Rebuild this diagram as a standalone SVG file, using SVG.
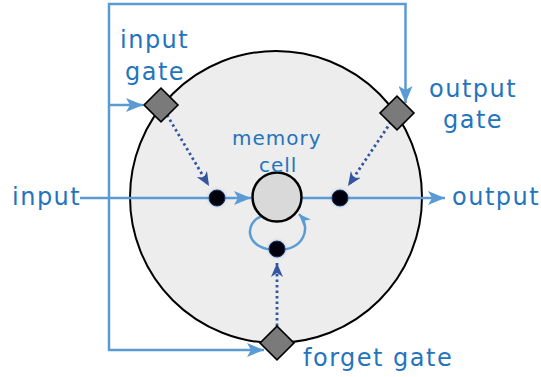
<svg xmlns="http://www.w3.org/2000/svg" width="541" height="377" viewBox="0 0 541 377">
  <style>
    .lbl { font-family: "DejaVu Sans", Verdana, sans-serif; font-size: 24px; letter-spacing: 1.5px; fill: #2474BC; }
    .small { font-size: 20px; letter-spacing: 1px; }
    .flow { fill: none; stroke: #5B9BD5; stroke-width: 2.5; }
    .ctrl { fill: none; stroke: #34559F; stroke-width: 2.8; stroke-dasharray: 2.5 3; }
    .gate { fill: #7A7A7A; stroke: #000; stroke-width: 1.6; }
    .dot { fill: #050510; stroke: #1a2a55; stroke-width: 1; }
  </style>
  <defs>
    <marker id="arrowBlue" viewBox="0 0 17 14" refX="17" refY="7" markerWidth="17" markerHeight="14" orient="auto-start-reverse" markerUnits="userSpaceOnUse">
      <path d="M0,0 L17,7 L0,14 L4,7 Z" fill="#5B9BD5"/>
    </marker>
    <marker id="arrowLoop" viewBox="0 0 12 10" refX="12" refY="5" markerWidth="12" markerHeight="10" orient="auto" markerUnits="userSpaceOnUse">
      <path d="M0,0 L12,5 L0,10 L3,5 Z" fill="#5B9BD5"/>
    </marker>
    <marker id="arrowCtrl" viewBox="0 0 14 12" refX="14" refY="6" markerWidth="14" markerHeight="12" orient="auto" markerUnits="userSpaceOnUse">
      <path d="M0,0 L14,6 L0,12 L4,6 Z" fill="#34559F"/>
    </marker>
    <filter id="glow" x="-50%" y="-50%" width="200%" height="200%">
      <feGaussianBlur in="SourceAlpha" stdDeviation="1.5" result="b"/>
      <feFlood flood-color="#5B9BD5" flood-opacity="0.6"/>
      <feComposite in2="b" operator="in" result="g"/>
      <feMerge><feMergeNode in="g"/><feMergeNode in="SourceGraphic"/></feMerge>
    </filter>
  </defs>

  <!-- unit body -->
  <g id="unit">
    <circle cx="276" cy="197" r="146" fill="#EDEDED" stroke="#000" stroke-width="2"/>
  </g>

  <!-- connectors -->
  <g id="connectors">
    <!-- gate feed bus: forget gate at one end, output gate at the other -->
    <path class="flow" d="M264,350 H109 V4 H405.5 V103" marker-start="url(#arrowBlue)" marker-end="url(#arrowBlue)"/>
    <path class="flow" d="M109,105 H143" marker-end="url(#arrowBlue)"/>
    <!-- data path -->
    <path class="flow" d="M80,198 H251" marker-end="url(#arrowBlue)"/>
    <path class="flow" d="M301,198 H445" marker-end="url(#arrowBlue)"/>
    <!-- self loop -->
    <path class="flow" stroke-width="2" d="M262,216 C244,222 244,250 277,250 C304,250 312,228 299,214" marker-end="url(#arrowLoop)"/>
    <!-- gate control -->
    <path class="ctrl" d="M167,115 L209,186" marker-end="url(#arrowCtrl)"/>
    <path class="ctrl" d="M391,122 L348,186" marker-end="url(#arrowCtrl)"/>
    <path class="ctrl" d="M277,326 L277,263" marker-end="url(#arrowCtrl)"/>
  </g>

  <g id="memory-cell">
    <circle cx="277" cy="197" r="24.5" fill="#D9D9D9" stroke="#000" stroke-width="2.5"/>
    <text class="lbl small" x="232" y="145">memory</text>
    <text class="lbl small" x="259" y="172">cell</text>
  </g>

  <g id="mult-in" filter="url(#glow)"><circle class="dot" cx="217" cy="198" r="8"/></g>
  <g id="mult-out" filter="url(#glow)"><circle class="dot" cx="340" cy="198" r="8"/></g>
  <g id="mult-forget" filter="url(#glow)"><circle class="dot" cx="277" cy="249" r="8"/></g>

  <g id="input-gate">
    <rect class="gate" x="-12" y="-12" width="24" height="24" transform="translate(161,105) rotate(45)"/>
    <text class="lbl" x="120" y="48">input</text>
    <text class="lbl" x="125" y="80">gate</text>
  </g>
  <g id="output-gate">
    <rect class="gate" x="-12" y="-12" width="24" height="24" transform="translate(397,113) rotate(45)"/>
    <text class="lbl" x="429" y="97">output</text>
    <text class="lbl" x="443" y="128">gate</text>
  </g>
  <g id="forget-gate">
    <rect class="gate" x="-12" y="-12" width="24" height="24" transform="translate(277,343) rotate(45)"/>
    <text class="lbl" x="303" y="366">forget gate</text>
  </g>

  <g id="input">
    <text class="lbl" x="12" y="205">input</text>
  </g>
  <g id="output">
    <text class="lbl" x="452" y="205">output</text>
  </g>
</svg>
